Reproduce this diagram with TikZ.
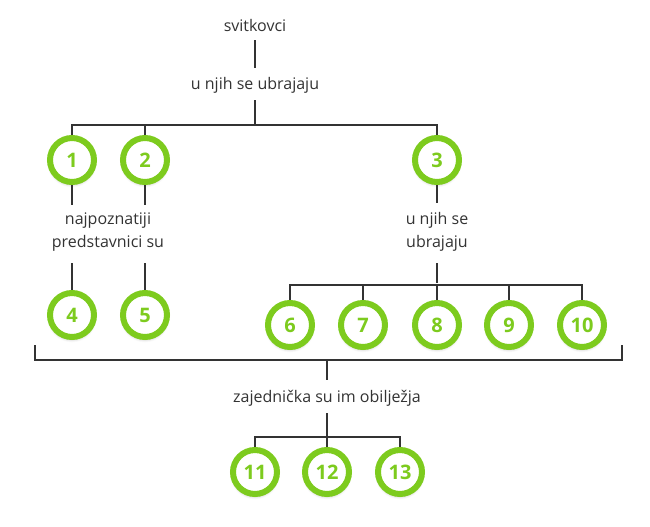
\documentclass[tikz,border=0pt]{standalone}
\usepackage{fontspec}
\setmainfont{Open Sans}
\usetikzlibrary{shadows.blur}
\definecolor{grn}{HTML}{7DCB1E}
\definecolor{txt}{HTML}{333333}
\definecolor{ln}{HTML}{333333}
\begin{document}
\begin{tikzpicture}[x=0.75pt,y=-0.75pt,
  circ/.style={circle,draw=grn,line width=4.5pt,fill=white,minimum size=33pt,inner sep=0pt,
    text=grn,font=\fontsize{15}{15}\selectfont\bfseries,blur shadow={shadow blur steps=6,shadow xshift=0pt,shadow yshift=-2pt,shadow opacity=25}},
  lab/.style={text=txt,font=\fontsize{12}{17}\selectfont,align=center,inner sep=1pt},
  con/.style={draw=ln,line width=0.8pt}]
\useasboundingbox (0,0) rectangle (650,526);
\node[lab] (t1) at (255,25) {svitkovci};
\node[lab] (t2) at (255,85) {u njih se ubrajaju};
\node[lab] (t3) at (108,232) {najpoznatiji\\predstavnici su};
\node[lab] (t4) at (437,232) {u njih se\\ubrajaju};
\node[lab] (t5) at (327,398) {zajednička su im obilježja};
\foreach \n/\x/\y in {1/72/160,2/145/160,3/437/160,4/72/315,5/145/315,6/290/325,7/363/325,8/437/325,9/509/325,10/582/325,11/255/472,12/327/472,13/400/472}
  \node[circ] (c\n) at (\x,\y) {\n};
\draw[con] (255,40) -- (255,68);
\coordinate (h1) at (255,125);
\draw[con] (255,100) -- (h1);
\draw[con] (c1.north) -- (72,125) -- (437,125) -- (c3.north);
\draw[con] (c2.north) -- (145,125);
\draw[con] (c1.south) -- (72,205); \draw[con] (c2.south) -- (145,205);
\draw[con] (72,263) -- (c4.north); \draw[con] (145,263) -- (c5.north);
\draw[con] (c3.south) -- (437,203);
\draw[con] (437,263) -- (437,283);
\draw[con] (c6.north) -- (290,285) -- (582,285) -- (c10.north);
\foreach \n/\x in {7/363,8/437,9/509} \draw[con] (c\n.north) -- (\x,285);
\draw[con] (35,345) -- (35,360) -- (622,360) -- (622,345);
\draw[con] (327,360) -- (327,380);
\draw[con] (327,413) -- (327,437);
\draw[con] (c11.north) -- (255,437) -- (400,437) -- (c13.north);
\draw[con] (c12.north) -- (327,437);
\end{tikzpicture}
\end{document}
